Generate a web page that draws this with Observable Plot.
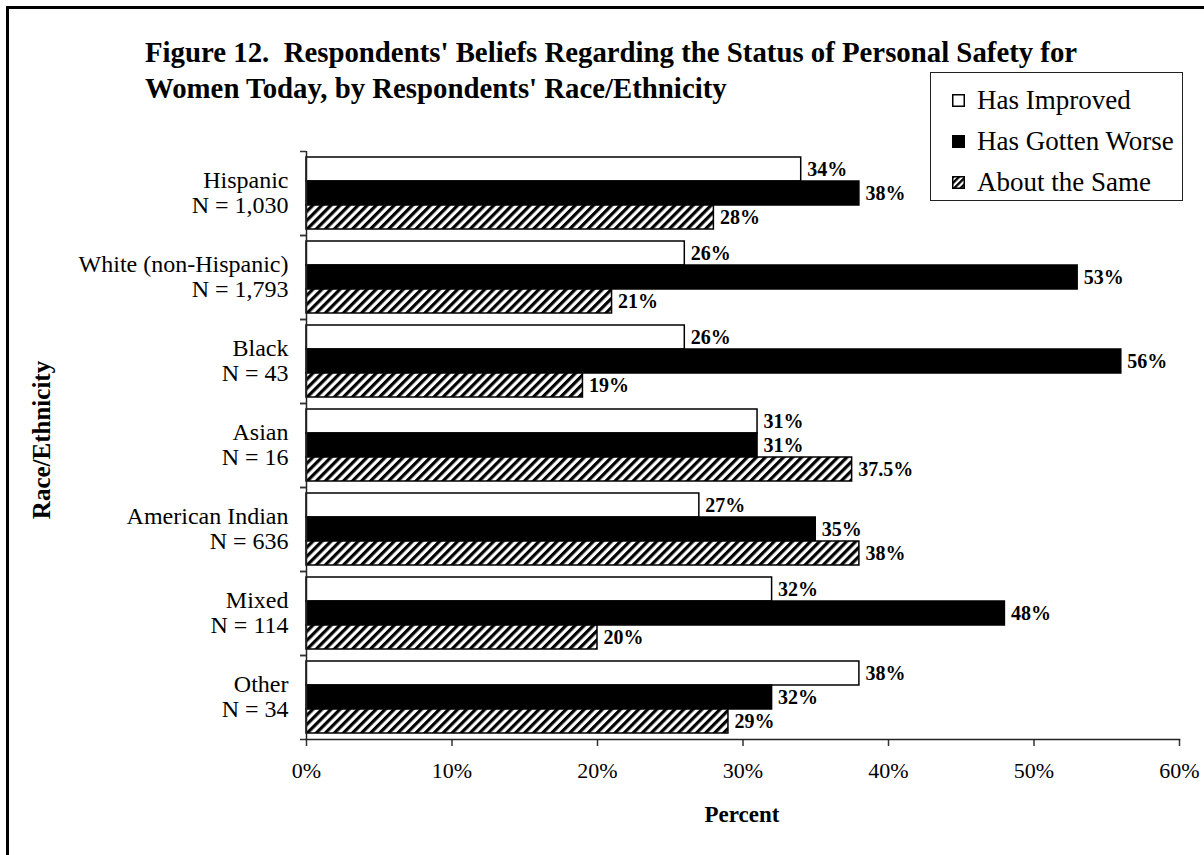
<!DOCTYPE html>
<html>
<head>
<meta charset="utf-8">
<script src="https://cdn.jsdelivr.net/npm/d3@7"></script>
<script src="https://cdn.jsdelivr.net/npm/@observablehq/plot@0.6"></script>
<style>
  html, body { margin: 0; padding: 0; background: #fff; }
  body { width: 1204px; height: 855px; position: relative; overflow: hidden; font-family: "Liberation Serif", "Times New Roman", serif; color: #000; }
  #frame { position: absolute; left: 6px; top: 6px; width: 1400px; height: 1000px; border-top: 3px solid #000; border-left: 3px solid #000; }
  #title { position: absolute; left: 145px; top: 34px; font-size: 28.8px; font-weight: bold; line-height: 36px; white-space: nowrap; }
  #chart { position: absolute; left: 0; top: 0; }
  #legend { position: absolute; left: 930px; top: 72px; width: 251px; height: 127px; border: 1px solid #222; background: #fff; }
  .lrow { position: absolute; left: 21px; font-size: 27px; line-height: 27px; white-space: nowrap; font-family: "Liberation Serif", serif; }
  .lrow svg { vertical-align: 2px; margin-right: 12px; }
  #xlabel { position: absolute; left: 742px; top: 815px; transform: translate(-50%, -50%); font-size: 23px; font-weight: bold; }
  #ylabel { position: absolute; left: 42px; top: 440px; transform: translate(-50%, -50%) rotate(-90deg); font-size: 25px; font-weight: bold; white-space: nowrap; }
</style>
</head>
<body>
<div id="frame"></div>
<div id="chart"></div>
<div id="title">Figure 12.&nbsp; Respondents' Beliefs Regarding the Status of Personal Safety for<br>Women Today, by Respondents' Race/Ethnicity</div>
<div id="legend"></div>
<div id="xlabel">Percent</div>
<div id="ylabel">Race/Ethnicity</div>
<script>
// ---- data ----
const categories = ["Hispanic", "White (non-Hispanic)", "Black", "Asian", "American Indian", "Mixed", "Other"];
const nLabels = ["N = 1,030", "N = 1,793", "N = 43", "N = 16", "N = 636", "N = 114", "N = 34"];
const series = ["Has Improved", "Has Gotten Worse", "About the Same"];
const improved = [34, 26, 26, 31, 27, 32, 38];
const worse = [38, 53, 56, 31, 35, 48, 32];
const same = [28, 21, 19, 37.5, 38, 20, 29];
const xTicks = [0, 10, 20, 30, 40, 50, 60];

const seriesValues = [improved, worse, same];
const data = categories.flatMap((c, i) =>
  series.map((s, j) => ({category: c, series: s, value: seriesValues[j][i]}))
);
const nOf = new Map(categories.map((c, i) => [c, nLabels[i]]));

const chart = Plot.plot({
  width: 1204,
  height: 855,
  marginLeft: 306,
  marginRight: 25,
  marginTop: 151,
  marginBottom: 116,
  style: {fontFamily: "'Liberation Serif', 'Times New Roman', serif", fontSize: "20px", color: "#000", background: "transparent", overflow: "visible"},
  x: {domain: [0, 60]},
  y: {domain: series, paddingInner: 0, paddingOuter: 0.2, axis: null},
  fy: {domain: categories, padding: 0},
  color: {domain: series, range: ["white", "black", "url(#hatch)"]},
  marks: [
    Plot.barX(data, {x: "value", y: "series", fy: "category", fill: "series", stroke: "#000", strokeWidth: 1.5}),
    Plot.text(data, {x: "value", y: "series", fy: "category", text: d => d.value + "%", textAnchor: "start", dx: 6, fontWeight: "bold", fontSize: 20, fill: "#000"}),
    Plot.ruleX([0], {stroke: "#222", strokeWidth: 1.5}),
    Plot.axisX({ticks: xTicks, tickFormat: d => d + "%", tickSize: 7, tickPadding: 16, label: null, fontSize: 22, stroke: "#333", strokeWidth: 1.5}),
    Plot.axisFy({anchor: "left", tickSize: 0, tickPadding: 18, tickFormat: d => d + "\n" + nOf.get(d), label: null, fontSize: 24, lineHeight: 1.05, dy: -1}),
    Plot.axisFy({anchor: "left", tickSize: 6, tickFormat: () => "", dy: -42, label: null, stroke: "#333", strokeWidth: 1.5}),
    Plot.axisFy({anchor: "left", tickSize: 6, tickFormat: () => "", dy: 42, label: null, stroke: "#333", strokeWidth: 1.5}),
    Plot.frame({anchor: "bottom", facet: "super", stroke: "#222", strokeWidth: 1.5})
  ]
});

// hatch pattern definition
const ns = "http://www.w3.org/2000/svg";
const defs = document.createElementNS(ns, "defs");
defs.innerHTML = '<pattern id="hatch" patternUnits="userSpaceOnUse" width="6.4" height="6.4" patternTransform="rotate(45)">' +
  '<rect width="6.4" height="6.4" fill="white"/><rect width="3.2" height="6.4" fill="black"/></pattern>';
chart.insertBefore(defs, chart.firstChild);
document.getElementById("chart").appendChild(chart);

// legend
const legend = document.getElementById("legend");
const fills = ["white", "black", "url(#hatch2)"];
const baselines = [37, 78, 119];
series.forEach((s, i) => {
  const row = document.createElement("div");
  row.className = "lrow";
  // line-height 27px: baseline ≈ top + 22.6
  row.style.top = (baselines[i] - 22.6) + "px";
  row.innerHTML = `<svg width="13" height="13" viewBox="0 0 13 13">` +
    (i === 2 ? '<defs><pattern id="hatch2" patternUnits="userSpaceOnUse" width="4.5" height="4.5" patternTransform="rotate(45)"><rect width="4.5" height="4.5" fill="white"/><rect width="2.3" height="4.5" fill="black"/></pattern></defs>' : '') +
    `<rect x="0.75" y="0.75" width="11.5" height="11.5" fill="${fills[i]}" stroke="#000" stroke-width="1.5"/></svg>${s}`;
  legend.appendChild(row);
});
</script>
</body>
</html>
